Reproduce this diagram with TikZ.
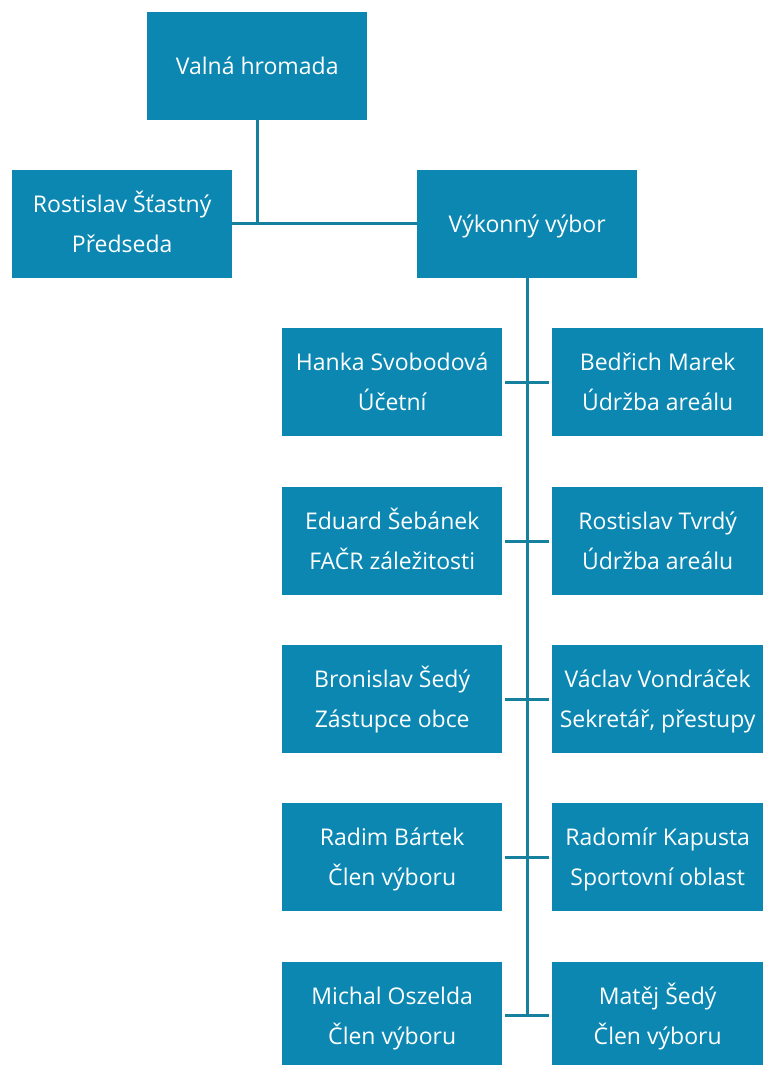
\documentclass[tikz,border=0pt]{standalone}
\usepackage{fontspec}
\setmainfont{Open Sans}
\definecolor{boxfill}{HTML}{0B87B2}
\definecolor{linec}{HTML}{16809F}
\newcommand{\tl}[2]{\strut #1\\\strut #2}
\begin{document}
\begin{tikzpicture}[x=1pt,y=-1pt,
  box/.style={fill=boxfill,draw=none,text=white,minimum width=220pt,minimum height=108pt,
    inner sep=0pt,align=center,font=\fontsize{23}{40}\selectfont,anchor=north west},
  rbox/.style={box,minimum width=211pt},
  conn/.style={draw=linec,line width=3pt}]
\useasboundingbox (0,0) rectangle (763,1065);
\node[box] (vh) at (147,12) {\strut Valná hromada};
\node[box] (rs) at (12,170) {\tl{Rostislav Šťastný}{Předseda}};
\node[box] (vv) at (417,170) {\strut Výkonný výbor};
\coordinate (j1) at (257,223);
\draw[conn] (vh.south -| j1) -- (j1);
\draw[conn] (rs.east |- j1) -- (vv.west |- j1);
% rows
\node[box] (l1) at (282,328) {\tl{Hanka Svobodová}{Účetní}};
\node[rbox] (r1) at (552,328) {\tl{Bedřich Marek}{Údržba areálu}};
\node[box] (l2) at (282,487) {\tl{Eduard Šebánek}{FAČR záležitosti}};
\node[rbox] (r2) at (552,487) {\tl{Rostislav Tvrdý}{Údržba areálu}};
\node[box] (l3) at (282,645) {\tl{Bronislav Šedý}{Zástupce obce}};
\node[rbox] (r3) at (552,645) {\tl{Václav Vondráček}{Sekretář, přestupy}};
\node[box] (l4) at (282,803) {\tl{Radim Bártek}{Člen výboru}};
\node[rbox] (r4) at (552,803) {\tl{Radomír Kapusta}{Sportovní oblast}};
\node[box] (l5) at (282,962) {\tl{Michal Oszelda}{Člen výboru}};
\node[rbox] (r5) at (552,962) {\tl{Matěj Šedý}{Člen výboru}};
\coordinate (vx) at (527,0);
\coordinate (bend) at (527,1015);
\draw[conn] (vv.south -| vx) -- (bend);
\draw[conn] ([xshift=3pt]l1.east) -- ([xshift=-3pt]r1.west);
\draw[conn] ([xshift=3pt]l2.east) -- ([xshift=-3pt]r2.west);
\draw[conn] ([xshift=3pt]l3.east) -- ([xshift=-3pt]r3.west);
\draw[conn] ([xshift=3pt]l4.east) -- ([xshift=-3pt]r4.west);
\draw[conn] ([xshift=3pt]l5.east |- bend) -- ([xshift=-3pt]r5.west |- bend);
\end{tikzpicture}
\end{document}
